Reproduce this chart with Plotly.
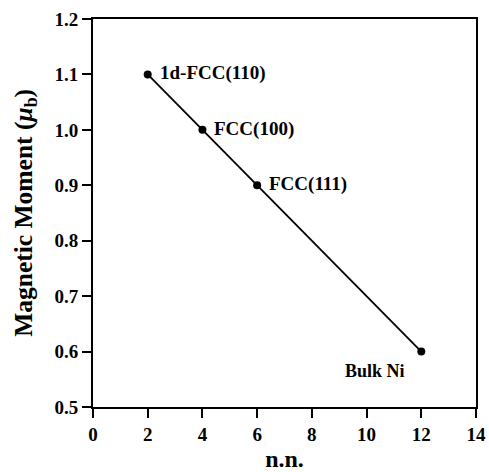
import plotly.graph_objects as go

nn = [2, 4, 6, 12]
moment = [1.1, 1.0, 0.9, 0.6]
labels = ["1d-FCC(110)", "FCC(100)", "FCC(111)", "Bulk Ni"]
x_ticks = [0, 2, 4, 6, 8, 10, 12, 14]
y_ticks = [0.5, 0.6, 0.7, 0.8, 0.9, 1.0, 1.1, 1.2]

font = "Liberation Serif, Times New Roman, serif"

fig = go.Figure()
fig.add_trace(go.Scatter(
    x=nn, y=moment, mode="lines+markers",
    line=dict(color="black", width=1.8),
    marker=dict(color="black", size=8),
    showlegend=False,
))

for i, (x, y, t) in enumerate(zip(nn, moment, labels)):
    if i < 3:
        fig.add_annotation(x=x, y=y, text="<b>%s</b>" % t, showarrow=False,
                           xanchor="left", yanchor="middle", xshift=10, yshift=1,
                           font=dict(family=font, size=19, color="black"))
    else:
        fig.add_annotation(x=x, y=y, text="<b>%s</b>" % t, showarrow=False,
                           xanchor="right", yanchor="top", xshift=-14, yshift=-7,
                           font=dict(family=font, size=18, color="black"))

# y-axis title as rotated annotation
fig.add_annotation(xref="paper", yref="paper", x=-0.178, y=0.5,
                   text="<b>Magnetic Moment (<i>μ</i><sub>b</sub>)</b>",
                   textangle=-90, showarrow=False, xanchor="center", yanchor="middle",
                   font=dict(family=font, size=25.5, color="black"))

axis_common = dict(
    showline=True, linecolor="black", linewidth=2, mirror=True,
    ticks="outside", ticklen=9, tickwidth=2, tickcolor="black",
    showgrid=False, zeroline=False, automargin=False,
    tickfont=dict(family=font, size=19, color="black"),
)

fig.update_xaxes(range=[0, 14], tickvals=x_ticks,
                 ticktext=["<b>%d</b>" % v for v in x_ticks],
                 title=dict(text="<b>n.n.</b>", font=dict(family=font, size=24, color="black")),
                 **axis_common)
fig.update_yaxes(range=[0.5, 1.2], tickvals=y_ticks,
                 ticktext=["<b>%.1f</b>" % v for v in y_ticks],
                 **axis_common)

fig.update_layout(
    width=489, height=472,
    margin=dict(l=93, r=13, t=19, b=65),
    plot_bgcolor="white", paper_bgcolor="white",
)

fig.write_html("out.html")
